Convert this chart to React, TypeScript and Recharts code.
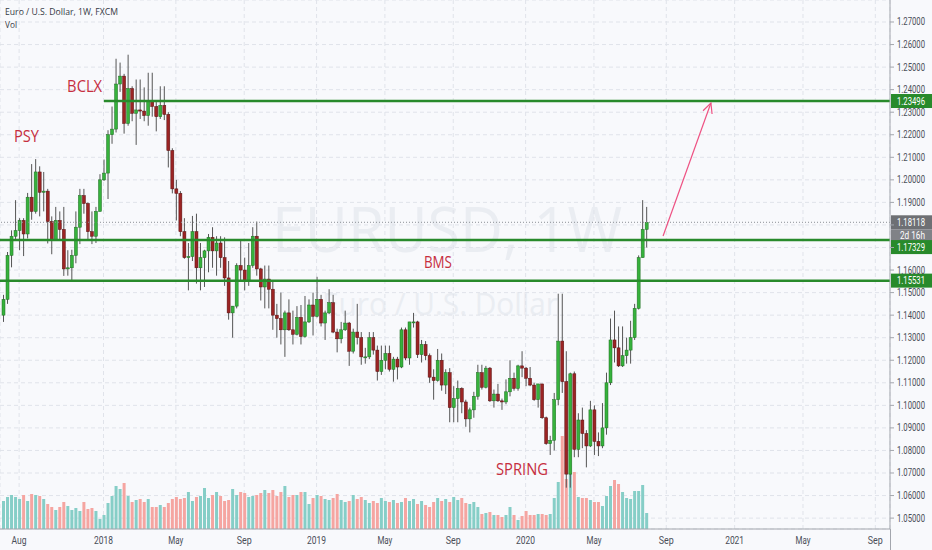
import React from 'react'
import {
  ComposedChart,
  Bar,
  XAxis,
  YAxis,
  CartesianGrid,
  ReferenceLine,
  ReferenceDot,
} from 'recharts'

// weekly EUR/USD candles, week of 10 Jul 2017 .. week of 3 Aug 2020
const opens = [
  1.1400, 1.1470, 1.1665, 1.1750, 1.1775, 1.1820, 1.1760, 1.1923, 1.1860, 1.2035,
  1.1945, 1.1950, 1.1815, 1.1735, 1.1820, 1.1780, 1.1605, 1.1610, 1.1665, 1.1790,
  1.1930, 1.1895, 1.1770, 1.1750, 1.1860, 1.2000, 1.2030, 1.2200, 1.2225, 1.2425,
  1.2460, 1.2250, 1.2405, 1.2295, 1.2310, 1.2305, 1.2285, 1.2350, 1.2325, 1.2280,
  1.2330, 1.2290, 1.2130, 1.1960, 1.1940, 1.1770, 1.1655, 1.1660, 1.1770, 1.1610,
  1.1655, 1.1685, 1.1745, 1.1685, 1.1720, 1.1655, 1.1565, 1.1410, 1.1440, 1.1620,
  1.1600, 1.1550, 1.1620, 1.1750, 1.1605, 1.1525, 1.1560, 1.1515, 1.1400, 1.1385,
  1.1335, 1.1410, 1.1335, 1.1315, 1.1390, 1.1305, 1.1370, 1.1445, 1.1395, 1.1470,
  1.1365, 1.1410, 1.1455, 1.1325, 1.1295, 1.1335, 1.1365, 1.1240, 1.1325, 1.1300,
  1.1215, 1.1215, 1.1300, 1.1245, 1.1150, 1.1200, 1.1230, 1.1160, 1.1205, 1.1170,
  1.1335, 1.1210, 1.1370, 1.1370, 1.1225, 1.1270, 1.1220, 1.1125, 1.1110, 1.1200,
  1.1090, 1.1145, 1.0990, 1.1030, 1.1075, 1.1015, 1.0940, 1.0980, 1.1040, 1.1145,
  1.1080, 1.1165, 1.1020, 1.1050, 1.1020, 1.1015, 1.1060, 1.1120, 1.1075, 1.1175,
  1.1165, 1.1120, 1.1090, 1.1025, 1.1095, 1.0945, 1.0830, 1.0845, 1.1025, 1.1285,
  1.1105, 1.0695, 1.1140, 1.0805, 1.0935, 1.0875, 1.0820, 1.0980, 1.0840, 1.0820,
  1.0900, 1.1100, 1.1290, 1.1255, 1.1175, 1.1220, 1.1245, 1.1300, 1.1430, 1.1655,
  1.1780,
]

const highs = [
  1.1490, 1.1680, 1.1776, 1.1910, 1.1830, 1.1830, 1.1942, 1.2070, 1.2092, 1.2060,
  1.2035, 1.1960, 1.1838, 1.1880, 1.1860, 1.1880, 1.1688, 1.1690, 1.1860, 1.1960,
  1.1960, 1.1900, 1.1860, 1.1880, 1.2025, 1.2090, 1.2220, 1.2325, 1.2537, 1.2520,
  1.2470, 1.2555, 1.2415, 1.2445, 1.2445, 1.2410, 1.2475, 1.2475, 1.2345, 1.2415,
  1.2415, 1.2300, 1.2140, 1.2000, 1.1950, 1.1830, 1.1720, 1.1840, 1.1850, 1.1720,
  1.1690, 1.1760, 1.1790, 1.1750, 1.1750, 1.1745, 1.1640, 1.1440, 1.1630, 1.1735,
  1.1655, 1.1720, 1.1790, 1.1815, 1.1610, 1.1620, 1.1620, 1.1550, 1.1450, 1.1500,
  1.1420, 1.1470, 1.1420, 1.1440, 1.1445, 1.1485, 1.1470, 1.1500, 1.1570, 1.1490,
  1.1420, 1.1515, 1.1490, 1.1340, 1.1370, 1.1420, 1.1370, 1.1340, 1.1450, 1.1325,
  1.1255, 1.1325, 1.1325, 1.1265, 1.1265, 1.1265, 1.1265, 1.1215, 1.1215, 1.1345,
  1.1345, 1.1370, 1.1410, 1.1375, 1.1290, 1.1285, 1.1230, 1.1160, 1.1250, 1.1230,
  1.1160, 1.1165, 1.1085, 1.1110, 1.1080, 1.1025, 1.0990, 1.1060, 1.1180, 1.1180,
  1.1175, 1.1170, 1.1070, 1.1095, 1.1030, 1.1115, 1.1200, 1.1145, 1.1180, 1.1240,
  1.1170, 1.1170, 1.1100, 1.1095, 1.1095, 1.0950, 1.0865, 1.1055, 1.1495, 1.1495,
  1.1240, 1.1145, 1.1150, 1.0965, 1.0990, 1.0890, 1.1020, 1.1000, 1.0880, 1.1010,
  1.1145, 1.1385, 1.1420, 1.1350, 1.1350, 1.1300, 1.1375, 1.1450, 1.1665, 1.1910,
  1.1880,
]

const lows = [
  1.1370, 1.1450, 1.1612, 1.1730, 1.1688, 1.1662, 1.1740, 1.1823, 1.1850, 1.1838,
  1.1860, 1.1718, 1.1670, 1.1732, 1.1730, 1.1574, 1.1575, 1.1555, 1.1630, 1.1715,
  1.1850, 1.1730, 1.1715, 1.1720, 1.1860, 1.1995, 1.1915, 1.2160, 1.2210, 1.2390,
  1.2205, 1.2240, 1.2260, 1.2155, 1.2270, 1.2260, 1.2240, 1.2280, 1.2215, 1.2270,
  1.2265, 1.2055, 1.1940, 1.1820, 1.1750, 1.1650, 1.1510, 1.1640, 1.1540, 1.1510,
  1.1525, 1.1590, 1.1610, 1.1575, 1.1610, 1.1530, 1.1380, 1.1300, 1.1430, 1.1550,
  1.1510, 1.1530, 1.1610, 1.1575, 1.1465, 1.1430, 1.1430, 1.1335, 1.1300, 1.1270,
  1.1215, 1.1330, 1.1270, 1.1310, 1.1270, 1.1300, 1.1365, 1.1310, 1.1390, 1.1350,
  1.1290, 1.1405, 1.1320, 1.1235, 1.1275, 1.1330, 1.1175, 1.1230, 1.1270, 1.1180,
  1.1185, 1.1205, 1.1225, 1.1110, 1.1135, 1.1160, 1.1150, 1.1105, 1.1115, 1.1165,
  1.1200, 1.1180, 1.1345, 1.1210, 1.1190, 1.1200, 1.1100, 1.1025, 1.1105, 1.1065,
  1.1050, 1.0925, 1.0925, 1.0925, 1.0965, 1.0905, 1.0880, 1.0945, 1.1025, 1.1070,
  1.1075, 1.1015, 1.0990, 1.1015, 1.0980, 1.1005, 1.1040, 1.1065, 1.1065, 1.1125,
  1.1085, 1.1085, 1.1020, 1.0990, 1.0940, 1.0825, 1.0780, 1.0800, 1.1000, 1.1055,
  1.0635, 1.0635, 1.0770, 1.0770, 1.0810, 1.0725, 1.0815, 1.0780, 1.0775, 1.0810,
  1.0870, 1.1090, 1.1190, 1.1170, 1.1170, 1.1185, 1.1185, 1.1290, 1.1425, 1.1655,
  1.1700,
]

const closes = [
  1.1470, 1.1665, 1.1750, 1.1775, 1.1820, 1.1760, 1.1923, 1.1860, 1.2035, 1.1945,
  1.1950, 1.1815, 1.1735, 1.1820, 1.1780, 1.1605, 1.1610, 1.1665, 1.1790, 1.1930,
  1.1895, 1.1770, 1.1750, 1.1860, 1.2000, 1.2030, 1.2200, 1.2225, 1.2425, 1.2460,
  1.2250, 1.2405, 1.2295, 1.2310, 1.2305, 1.2285, 1.2350, 1.2325, 1.2280, 1.2330,
  1.2290, 1.2130, 1.1960, 1.1940, 1.1770, 1.1655, 1.1660, 1.1770, 1.1610, 1.1655,
  1.1685, 1.1745, 1.1685, 1.1720, 1.1655, 1.1565, 1.1410, 1.1440, 1.1620, 1.1600,
  1.1550, 1.1620, 1.1750, 1.1605, 1.1525, 1.1560, 1.1515, 1.1400, 1.1385, 1.1335,
  1.1410, 1.1335, 1.1315, 1.1390, 1.1305, 1.1370, 1.1445, 1.1395, 1.1470, 1.1365,
  1.1410, 1.1455, 1.1325, 1.1295, 1.1335, 1.1365, 1.1240, 1.1325, 1.1300, 1.1215,
  1.1215, 1.1300, 1.1245, 1.1150, 1.1200, 1.1230, 1.1160, 1.1205, 1.1170, 1.1335,
  1.1210, 1.1370, 1.1370, 1.1225, 1.1270, 1.1220, 1.1125, 1.1110, 1.1200, 1.1090,
  1.1145, 1.0990, 1.1030, 1.1075, 1.1015, 1.0940, 1.0980, 1.1040, 1.1145, 1.1080,
  1.1165, 1.1020, 1.1050, 1.1020, 1.1015, 1.1060, 1.1120, 1.1075, 1.1175, 1.1165,
  1.1120, 1.1090, 1.1025, 1.1095, 1.0945, 1.0830, 1.0845, 1.1025, 1.1285, 1.1105,
  1.0695, 1.1140, 1.0805, 1.0935, 1.0875, 1.0820, 1.0980, 1.0840, 1.0820, 1.0900,
  1.1100, 1.1290, 1.1255, 1.1175, 1.1220, 1.1245, 1.1300, 1.1430, 1.1655, 1.1780,
  1.18118,
]

// weekly volume (thousands)
const volumes = [
  28, 32, 34, 32, 30, 34, 28, 35, 34, 33, 30, 25, 22, 19, 22, 27, 23, 19, 21, 18,
  27, 20, 21, 18, 10, 14, 26, 33, 43, 40, 46, 33, 27, 29, 30, 27, 30, 22, 22, 24,
  22, 26, 30, 32, 30, 31, 37, 28, 32, 33, 41, 31, 34, 37, 33, 28, 29, 40, 34, 37,
  36, 32, 33, 34, 36, 39, 36, 39, 33, 37, 43, 32, 34, 34, 37, 37, 25, 31, 34, 33,
  30, 29, 31, 35, 29, 27, 28, 34, 30, 32, 29, 26, 28, 26, 31, 28, 27, 29, 26, 27,
  31, 28, 30, 25, 28, 24, 22, 27, 31, 28, 30, 27, 32, 29, 31, 26, 25, 27, 22, 15,
  16, 17, 14, 14, 12, 14, 22, 14, 9, 13, 18, 14, 14, 15, 15, 14, 15, 31, 47, 93,
  50, 56, 57, 32, 31, 31, 29, 27, 27, 23, 33, 43, 49, 45, 37, 31, 30, 38, 38, 44,
  16,
]

// first weekly bar of each labelled month
const monthTicks = [4, 25, 43, 60, 78, 95, 112, 130, 147, 165, 182, 199, 217]
const monthLabels = ['Aug', '2018', 'May', 'Sep', '2019', 'May', 'Sep', '2020', 'May', 'Sep', '2021', 'May', 'Sep']
const priceTicks = [
  1.05, 1.06, 1.07, 1.08, 1.09, 1.1, 1.11, 1.12, 1.13, 1.14, 1.15, 1.16,
  1.17, 1.18, 1.19, 1.2, 1.21, 1.22, 1.23, 1.24, 1.25, 1.26, 1.27,
]
const levels = [1.23496, 1.17329, 1.15531]
const lastPrice = 1.18118

const BG = '#f8f9fc'
const GRID = '#e0e3ea'
const AXIS = '#a3a6ad'
const TEXT = '#4a4e58'
const UP = '#36b23c'
const UP_EDGE = '#1f6d22'
const DOWN = '#9b2424'
const DOWN_EDGE = '#561010'
const WICK = '#555555'
const VOL_UP = '#86cec7'
const VOL_DOWN = '#f5a5a1'
const LEVEL = '#288a2b'
const NOTE = '#c62e3f'
const ARROW = '#ee5283'
const FONT = '"Open Sans", "DejaVu Sans", sans-serif'
const NARROW = '"Liberation Sans Narrow", Roboto, sans-serif'

const data = opens.map((open, i) => ({
  i,
  open,
  high: highs[i],
  low: lows[i],
  close: closes[i],
  range: [lows[i], highs[i]],
  vol: volumes[i],
  up: closes[i] >= open,
}))

const renderCandle = (props: any) => {
  const { x, y, width, height, payload } = props
  const { open, close, high, low, up } = payload
  const span = high - low || 1
  const toY = (p: number) => y + ((high - p) / span) * height
  const cx = x + width / 2
  const top = toY(Math.max(open, close))
  const bottom = toY(Math.min(open, close))
  return (
    <g>
      <line x1={cx} x2={cx} y1={y} y2={y + height} stroke={WICK} strokeWidth={1} />
      <rect
        x={x}
        y={top}
        width={width}
        height={Math.max(1, bottom - top)}
        fill={up ? UP : DOWN}
        stroke={up ? UP_EDGE : DOWN_EDGE}
        strokeWidth={0.5}
      />
    </g>
  )
}

const renderVolume = (props: any) => {
  const { x, y, width, height, payload } = props
  return <rect x={x} y={y} width={width} height={height} fill={payload.up ? VOL_UP : VOL_DOWN} />
}

const renderMonthTick = (props: any) => {
  const { x, y, payload } = props
  const label = monthLabels[monthTicks.indexOf(payload.value)] ?? ''
  return (
    <text
      x={x}
      y={y + 15}
      textAnchor='middle'
      fontSize={10}
      fontFamily={NARROW}
      fill={TEXT}
      textLength={label.length === 4 ? 19 : 15}
      lengthAdjust='spacingAndGlyphs'
    >
      {label}
    </text>
  )
}

// the tags hide the axis labels they sit on
const hiddenTicks = [1.17, 1.18]

const renderPriceTick = (props: any) => {
  const { x, y, payload } = props
  if (hiddenTicks.includes(payload.value)) return <g />
  return (
    <text
      x={x}
      y={y + 3.5}
      fontSize={10}
      fontFamily={NARROW}
      fill={TEXT}
      textLength={28}
      lengthAdjust='spacingAndGlyphs'
    >
      {Number(payload.value).toFixed(5)}
    </text>
  )
}

const PriceTag = ({ x, y, text, bg }: { x: number; y: number; text: string; bg: string }) => (
  <g>
    <rect x={x + 1} y={y - 7} width={41} height={14} fill={bg} />
    <text
      x={x + 7}
      y={y + 3.5}
      fontSize={10}
      fontFamily={NARROW}
      fill='#ffffff'
      textLength={28}
      lengthAdjust='spacingAndGlyphs'
    >
      {text}
    </text>
  </g>
)

const levelShape = (value: number, tagDy: number) => (p: any) => {
  const right = Math.max(p.x1, p.x2)
  return (
    <g>
      <line x1={p.x1} y1={p.y1} x2={p.x2} y2={p.y2} stroke={LEVEL} strokeWidth={2.5} />
      <PriceTag x={right} y={p.y1 + tagDy} text={value.toFixed(5)} bg={LEVEL} />
    </g>
  )
}

const lastPriceShape = (p: any) => {
  const right = Math.max(p.x1, p.x2)
  return (
    <g>
      <line x1={p.x1} y1={p.y1} x2={p.x2} y2={p.y2} stroke='#8c8f96' strokeWidth={1} strokeDasharray='1 2' />
      <PriceTag x={right} y={p.y1} text={lastPrice.toFixed(5)} bg='#6e7074' />
      <rect x={right + 1} y={p.y1 + 7} width={41} height={12} fill='#808287' />
      <text
        x={right + 10}
        y={p.y1 + 16.5}
        fontSize={10}
        fontFamily={NARROW}
        fill='#ffffff'
        textLength={25}
        lengthAdjust='spacingAndGlyphs'
      >
        2d 16h
      </text>
    </g>
  )
}

const arrowShape = (p: any) => {
  const ang = Math.atan2(p.y1 - p.y2, p.x1 - p.x2)
  const len = 11
  const w1 = { x: p.x2 + len * Math.cos(ang + 0.45), y: p.y2 + len * Math.sin(ang + 0.45) }
  const w2 = { x: p.x2 + len * Math.cos(ang - 0.45), y: p.y2 + len * Math.sin(ang - 0.45) }
  return (
    <g stroke={ARROW} strokeWidth={1.2} fill='none'>
      <line x1={p.x1} y1={p.y1} x2={p.x2} y2={p.y2} />
      <polyline points={`${w1.x},${w1.y} ${p.x2},${p.y2} ${w2.x},${w2.y}`} />
    </g>
  )
}

const noteShape = (text: string, width: number) => (p: any) => (
  <text
    x={p.cx}
    y={p.cy}
    textAnchor='middle'
    fontSize={17}
    fontFamily={FONT}
    fill={NOTE}
    textLength={width}
    lengthAdjust='spacingAndGlyphs'
  >
    {text}
  </text>
)

const notes = [
  { text: 'PSY', x: 5.85, y: 1.21678, w: 25 },
  { text: 'BCLX', x: 20.3, y: 1.23896, w: 35 },
  { text: 'BMS', x: 108.2, y: 1.16091, w: 28 },
  { text: 'SPRING', x: 129.1, y: 1.06911, w: 52 },
]

const X_DOMAIN: [number, number] = [-0.75, 220.65]

const App: React.FC = () => {
  return (
    <div style={{ position: 'absolute', left: 0, top: 0, width: 932, height: 550, background: BG, overflow: 'hidden' }}>
      <svg width={932} height={550} style={{ position: 'absolute', left: 0, top: 0 }}>
        <text x={272} y={252} fontSize={62} fontFamily={FONT} fill='#eaedf2' textLength={350} lengthAdjust='spacingAndGlyphs'>
          EURUSD, 1W
        </text>
        <text x={322} y={315} fontSize={31} fontFamily={FONT} fill='#eaedf2' textLength={236} lengthAdjust='spacingAndGlyphs'>
          Euro / U.S. Dollar
        </text>
      </svg>
      <div style={{ position: 'absolute', left: 0, top: 0 }}>
        <ComposedChart width={932} height={550} data={data} margin={{ top: 0, right: 0, bottom: 0, left: 0 }}>
          <CartesianGrid xAxisId='main' yAxisId='price' stroke={GRID} strokeDasharray='4 3' />
          <XAxis
            xAxisId='main'
            type='number'
            dataKey='i'
            domain={X_DOMAIN}
            allowDataOverflow
            ticks={monthTicks}
            interval={0}
            height={21}
            tickLine={false}
            tickSize={0}
            tickMargin={0}
            axisLine={{ stroke: AXIS }}
            tick={renderMonthTick}
          />
          <XAxis xAxisId='vol' type='number' dataKey='i' domain={X_DOMAIN} allowDataOverflow hide />
          <YAxis
            yAxisId='price'
            orientation='right'
            type='number'
            domain={[1.045166, 1.279756]}
            allowDataOverflow
            ticks={priceTicks}
            interval={0}
            width={42}
            tickSize={4}
            tickMargin={3}
            tickLine={{ stroke: AXIS }}
            axisLine={{ stroke: AXIS }}
            tick={renderPriceTick}
          />
          <YAxis yAxisId='vol' type='number' domain={[0, 529]} allowDataOverflow hide />
          <Bar
            xAxisId='vol'
            yAxisId='vol'
            dataKey='vol'
            barSize={3}
            shape={renderVolume}
            isAnimationActive={false}
          />
          <Bar
            xAxisId='main'
            yAxisId='price'
            dataKey='range'
            barSize={3}
            shape={renderCandle}
            isAnimationActive={false}
          />
          <ReferenceLine
            xAxisId='main'
            yAxisId='price'
            y={lastPrice}
            shape={lastPriceShape}
          />
          <ReferenceLine
            xAxisId='main'
            yAxisId='price'
            segment={[{ x: 25.1, y: levels[0] }, { x: X_DOMAIN[1], y: levels[0] }]}
            shape={levelShape(levels[0], 0)}
          />
          <ReferenceLine
            xAxisId='main'
            yAxisId='price'
            y={levels[1]}
            shape={levelShape(levels[1], 7)}
          />
          <ReferenceLine
            xAxisId='main'
            yAxisId='price'
            y={levels[2]}
            shape={levelShape(levels[2], 0)}
          />
          <ReferenceLine
            xAxisId='main'
            yAxisId='price'
            segment={[{ x: 164.2, y: 1.1751 }, { x: 176.1, y: 1.23408 }]}
            shape={arrowShape}
          />
          {notes.map((n) => (
            <ReferenceDot
              key={n.text}
              xAxisId='main'
              yAxisId='price'
              x={n.x}
              y={n.y}
              r={0}
              shape={noteShape(n.text, n.w)}
            />
          ))}
        </ComposedChart>
      </div>
      <svg width={932} height={550} style={{ position: 'absolute', left: 0, top: 0, pointerEvents: 'none' }}>
        <text x={5} y={15} fontSize={9.5} fontFamily={FONT} fill='#363a45' textLength={113} lengthAdjust='spacingAndGlyphs'>
          Euro / U.S. Dollar, 1W, FXCM
        </text>
        <text x={5} y={28} fontSize={9.5} fontFamily={FONT} fill='#363a45' textLength={12} lengthAdjust='spacingAndGlyphs'>
          Vol
        </text>
        <line x1={890.5} y1={529} x2={890.5} y2={550} stroke={AXIS} />
      </svg>
    </div>
  )
}

export default App
